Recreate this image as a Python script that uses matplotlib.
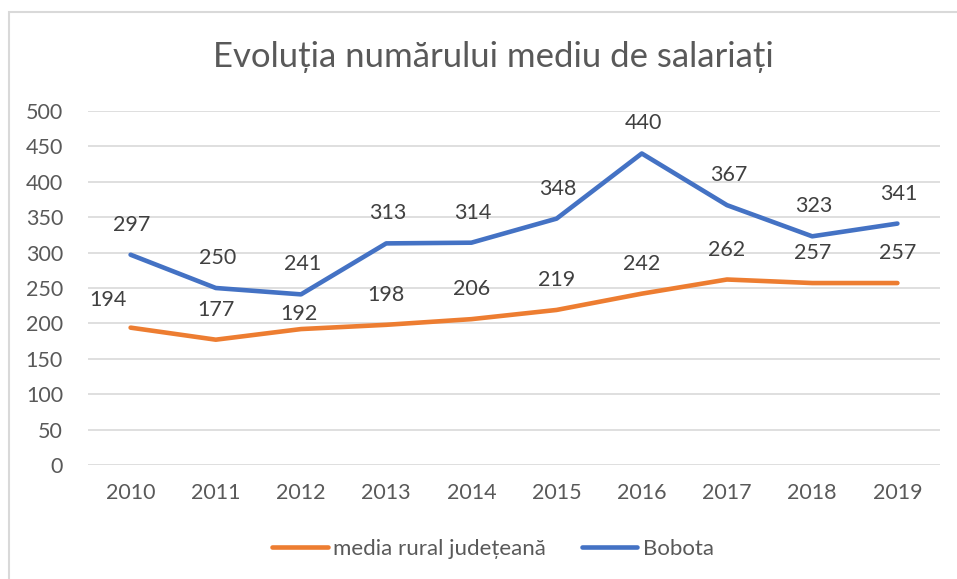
import matplotlib.pyplot as plt
from matplotlib.patches import Rectangle

years = ['2010', '2011', '2012', '2013', '2014', '2015', '2016', '2017', '2018', '2019']
media_rural = [194, 177, 192, 198, 206, 219, 242, 262, 257, 257]
bobota = [297, 250, 241, 313, 314, 348, 440, 367, 323, 341]

plt.rcParams['font.family'] = ['Lato', 'DejaVu Sans']
text_color = '#595959'

fig = plt.figure(figsize=(9.57, 5.79), dpi=100)
fig.patches.append(Rectangle((9 / 957, -0.1), 1.1, 1 - 12 / 579 + 0.1, transform=fig.transFigure,
                             fill=False, edgecolor='#d9d9d9', linewidth=1.5))
ax = fig.add_axes([88 / 957, 1 - 465 / 579, 852 / 957, 354 / 579])

x = range(len(years))
ax.plot(x, media_rural, color='#ED7D31', linewidth=3.3, label='media rural județeană', solid_capstyle='round')
ax.plot(x, bobota, color='#4472C4', linewidth=3.3, label='Bobota', solid_capstyle='round')

# data labels, offset in pixels above the points
for i, v in enumerate(bobota):
    ax.annotate(str(v), (i, v), xytext=(1, 30 * 0.72), textcoords='offset points',
                ha='center', va='center', fontsize=15.5, color='#404040')
for i, v in enumerate(media_rural):
    dx, dy = 0, 30
    if i == 0:
        dx, dy = -23, 28
    elif i == 2:
        dx, dy = -2, 15
    ax.annotate(str(v), (i, v), xytext=(dx * 0.72, dy * 0.72), textcoords='offset points',
                ha='center', va='center', fontsize=15.5, color='#404040')

ax.set_xlim(-0.5, len(years) - 0.5)
ax.set_ylim(0, 500)
ax.set_yticks(range(0, 501, 50))
ax.set_xticks(list(x))
ax.set_xticklabels(years)
ax.grid(axis='y', color='#d9d9d9', linewidth=1.2)
ax.set_axisbelow(True)
for s in ax.spines.values():
    s.set_visible(False)
ax.tick_params(length=0, labelsize=15.5, labelcolor=text_color)
ax.tick_params(axis='x', pad=13)
ax.tick_params(axis='y', pad=18)

fig.text(493 / 957, 1 - 57 / 579, 'Evoluția numărului mediu de salariați', ha='center', va='center',
         fontsize=25, color=text_color)
fig.legend(loc='center', bbox_to_anchor=(493 / 957, 1 - 549 / 579), ncol=2, frameon=False,
           fontsize=16, labelcolor=text_color, handlelength=2.5, handletextpad=0.25, columnspacing=1.6)

fig.savefig('out.png', dpi=100)
